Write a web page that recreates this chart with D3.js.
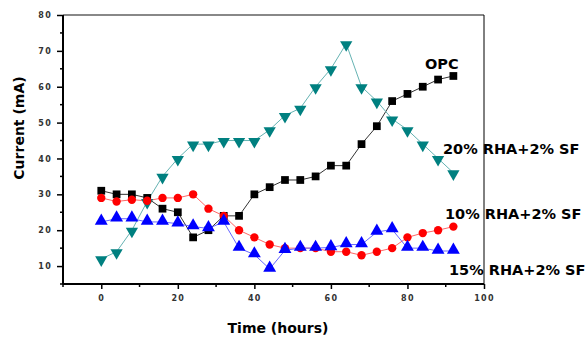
<!DOCTYPE html>
<html>
<head>
<meta charset="utf-8">
<script src="https://cdn.jsdelivr.net/npm/d3@7"></script>
<style>
  body { margin: 0; background: #fff; }
  svg { display: block; }
</style>
</head>
<body>
<div id="chart"></div>
<script>
// time in hours, one reading every 4 h
var hours = [0, 4, 8, 12, 16, 20, 24, 28, 32, 36, 40, 44, 48, 52, 56, 60, 64, 68, 72, 76, 80, 84, 88, 92];
var opc = [31, 30, 30, 29, 26, 25, 18, 20, 24, 24, 30, 32, 34, 34, 35, 38, 38, 44, 49, 56, 58, 60, 62, 63];
var rha20 = [12, 14, 20, 28, 35, 40, 44, 44, 45, 45, 45, 48, 52, 54, 60, 65, 72, 60, 56, 51, 48, 44, 40, 36];
var rha10 = [29, 28, 28.5, 28.2, 29, 29, 30, 26, 24, 20, 18, 16, 15, 15, 15, 14, 14, 13, 14, 15, 18, 19.2, 20, 21];
var rha15 = [22.3, 23.2, 23.2, 22.3, 22.3, 21.8, 21, 20.5, 22.3, 15, 13.2, 9.2, 14.4, 15, 15, 15.2, 16, 16, 19.5, 20.2, 15, 15, 14.2, 14.2];
var xTicks = [0, 20, 40, 60, 80, 100];
var yTicks = [10, 20, 30, 40, 50, 60, 70, 80];

var width = 588, height = 343;
var padding = { top: 15, right: 104, bottom: 59, left: 63 };

var svg = d3.select("#chart")
    .append("svg")
    .attr("width", width)
    .attr("height", height);

var xScale = d3.scaleLinear()
    .domain([-10, 100])
    .range([padding.left, width - padding.right]);
var yScale = d3.scaleLinear()
    .domain([5, 80])
    .range([height - padding.bottom, padding.top]);

var x0 = xScale.range()[0], x1 = xScale.range()[1];
var y0 = yScale.range()[0], y1 = yScale.range()[1];

// frame: gray top, thin black right
svg.append("line").attr("x1", x0).attr("x2", x1).attr("y1", y1).attr("y2", y1)
    .attr("stroke", "#888").attr("stroke-width", 2);
svg.append("line").attr("x1", x1).attr("x2", x1).attr("y1", y1).attr("y2", y0)
    .attr("stroke", "#000").attr("stroke-width", 1);

// minor ticks
var xMinor = d3.range(-10, 100, 20);
var yMinor = d3.range(5, 80, 10);

svg.append("g").selectAll("line").data(xMinor).enter().append("line")
    .attr("x1", function(d) { return xScale(d); }).attr("x2", function(d) { return xScale(d); })
    .attr("y1", y0).attr("y2", y0 + 3).attr("stroke", "#000").attr("stroke-width", 1.5);
svg.append("g").selectAll("line").data(yMinor).enter().append("line")
    .attr("y1", function(d) { return yScale(d); }).attr("y2", function(d) { return yScale(d); })
    .attr("x1", x0).attr("x2", x0 - 3).attr("stroke", "#000").attr("stroke-width", 1.5);

var xAxis = d3.axisBottom(xScale).tickValues(xTicks).tickSize(5).tickPadding(6);
var yAxis = d3.axisLeft(yScale).tickValues(yTicks).tickSize(6).tickPadding(5);

var gx = svg.append("g")
    .attr("transform", "translate(0," + y0 + ")")
    .call(xAxis);
var gy = svg.append("g")
    .attr("transform", "translate(" + x0 + ",0)")
    .call(yAxis);

[gx, gy].forEach(function(g) {
    g.select(".domain").attr("stroke", "#000").attr("stroke-width", 2);
    g.selectAll(".tick line").attr("stroke", "#000").attr("stroke-width", 1.5);
    g.selectAll(".tick text")
        .attr("fill", "#333")
        .style("font-family", "'DejaVu Sans', sans-serif")
        .style("font-size", "8px")
        .style("font-weight", "bold")
        .style("letter-spacing", "1.3px");
});
gx.select(".domain").attr("d", "M" + x0 + ",0H" + x1);
gy.select(".domain").attr("d", "M0," + y0 + "V" + y1);

// axis titles
svg.append("text")
    .attr("x", 278).attr("y", 333)
    .attr("text-anchor", "middle")
    .style("font-family", "'DejaVu Sans', sans-serif")
    .style("font-size", "14px")
    .style("font-weight", "bold")
    .text("Time (hours)");
svg.append("text")
    .attr("transform", "translate(24,128) rotate(-90)")
    .attr("text-anchor", "middle")
    .style("font-family", "'DejaVu Sans', sans-serif")
    .style("font-size", "14px")
    .style("font-weight", "bold")
    .text("Current (mA)");

var series = [
    { name: "OPC", values: opc, line: "#333", fill: "#000", shape: d3.symbolSquare, size: 60, rot: 0 },
    { name: "20% RHA+2% SF", values: rha20, line: "#66b3b3", fill: "#008080", shape: d3.symbolTriangle, size: 65, rot: 180 },
    { name: "10% RHA+2% SF", values: rha10, line: "#ff6666", fill: "#ff0000", shape: d3.symbolCircle, size: 55, rot: 0 },
    { name: "15% RHA+2% SF", values: rha15, line: "#6666ff", fill: "#0000ff", shape: d3.symbolTriangle, size: 72, rot: 0 }
];

var linePath = d3.line()
    .x(function(d) { return xScale(d[0]); })
    .y(function(d) { return yScale(d[1]); });

series.forEach(function(s) {
    var pts = hours.map(function(h, i) { return [h, s.values[i]]; });
    svg.append("path")
        .attr("d", linePath(pts))
        .attr("fill", "none")
        .attr("stroke", s.line)
        .attr("stroke-width", 1);
});
series.forEach(function(s) {
    var pts = hours.map(function(h, i) { return [h, s.values[i]]; });
    var sym = d3.symbol().type(s.shape).size(s.size);
    svg.append("g").selectAll("path")
        .data(pts).enter().append("path")
        .attr("d", sym)
        .attr("transform", function(d) {
            var off = s.shape === d3.symbolTriangle ? (s.rot ? 1 : -1) : 0;
            return "translate(" + xScale(d[0]) + "," + (yScale(d[1]) + off) + ") rotate(" + s.rot + ")";
        })
        .attr("fill", s.fill);
});

// series labels
var labels = [
    { text: "OPC", x: 425, y: 69 },
    { text: "20% RHA+2% SF", x: 443, y: 154 },
    { text: "10% RHA+2% SF", x: 445, y: 219 },
    { text: "15% RHA+2% SF", x: 449, y: 275 }
];
svg.append("g").selectAll("text")
    .data(labels).enter().append("text")
    .attr("x", function(d) { return d.x; })
    .attr("y", function(d) { return d.y; })
    .style("font-family", "'DejaVu Sans', sans-serif")
    .style("font-size", "14.5px")
    .style("font-weight", "bold")
    .text(function(d) { return d.text; });
</script>
</body>
</html>
